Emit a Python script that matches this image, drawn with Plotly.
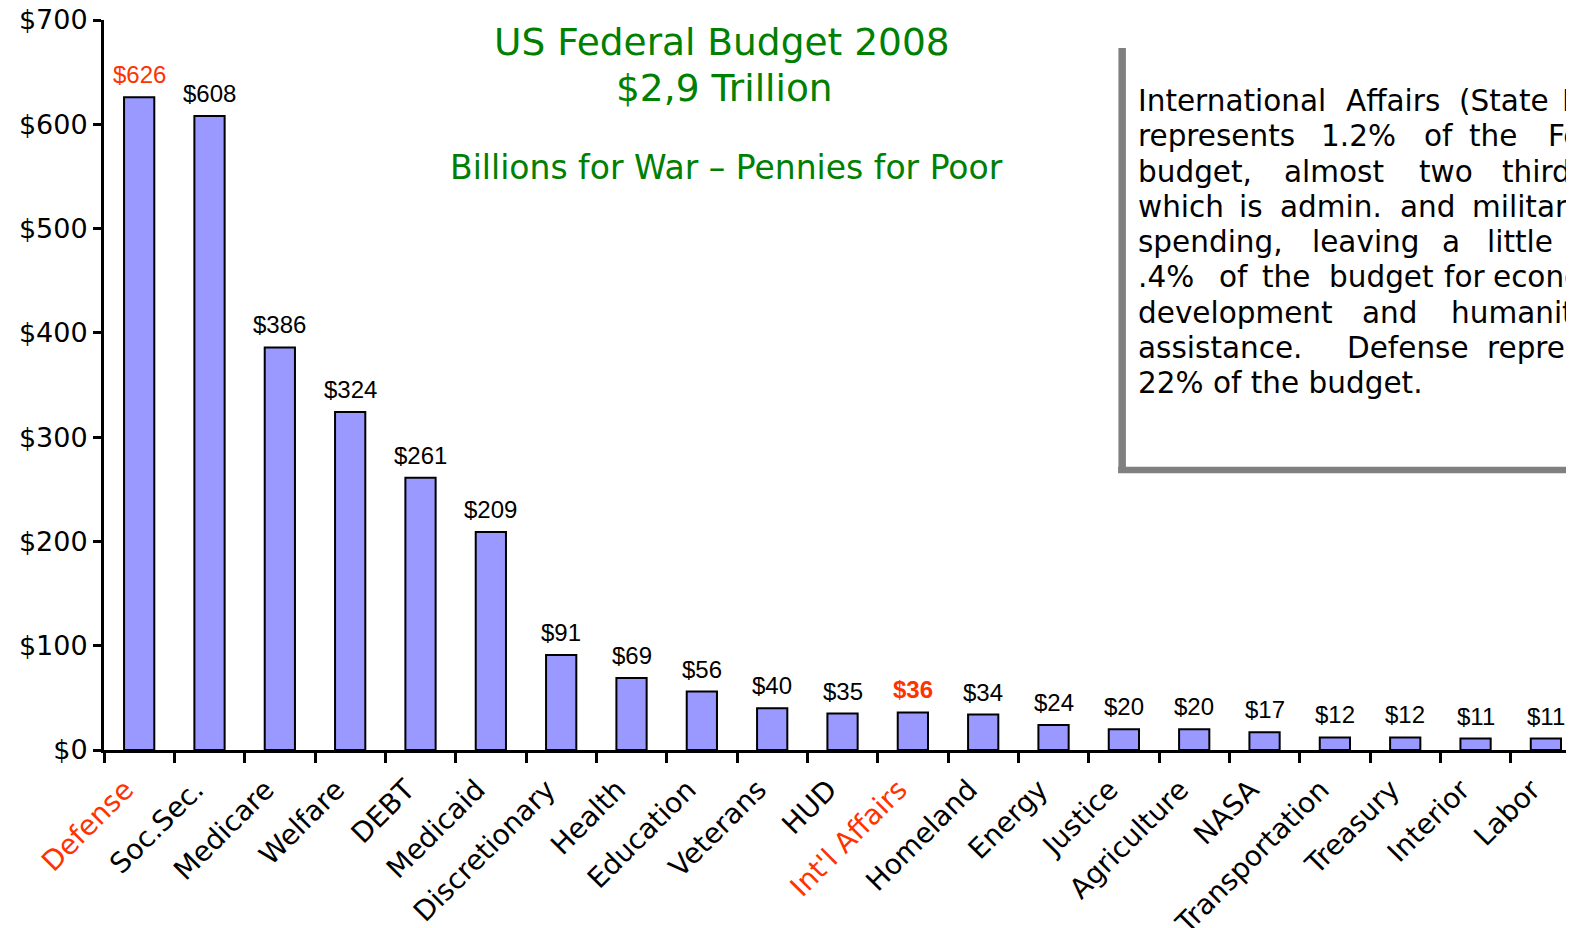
import plotly.graph_objects as go

# ---------------- data ----------------
categories = ["Defense", "Soc.Sec.", "Medicare", "Welfare", "DEBT", "Medicaid",
              "Discretionary", "Health", "Education", "Veterans", "HUD",
              "Int'l Affairs", "Homeland", "Energy", "Justice", "Agriculture",
              "NASA", "Transportation", "Treasury", "Interior", "Labor"]
values = [626, 608, 386, 324, 261, 209, 91, 69, 56, 40, 35, 36, 34, 24, 20, 20,
          17, 12, 12, 11, 11]
red_categories = ["Defense", "Int'l Affairs"]
bold_value_categories = ["Int'l Affairs"]
y_ticks = [0, 100, 200, 300, 400, 500, 600, 700]

title_lines = ["US Federal Budget 2008", "$2,9 Trillion"]
subtitle = "Billions for War \u2013 Pennies for Poor"
note_lines = [
    ["International", "Affairs", "(State", "Dept.)"],
    ["represents", "1.2%", "of", "the", "Federal"],
    ["budget,", "almost", "two", "thirds", "of"],
    ["which", "is", "admin.", "and", "military"],
    ["spending,", "leaving", "a", "little", "over"],
    [".4%", "of", "the", "budget", "for", "economic"],
    ["development", "and", "humanitarian"],
    ["assistance.", "Defense", "represents"],
    ["22% of the budget."],
]
# page-pixel start of each word of the justified note text (layout)
note_word_x = [
    [1139, 1347, 1460, 1563],
    [1139, 1322, 1425, 1470, 1549],
    [1139, 1285, 1420, 1503, 1620],
    [1139, 1240, 1281, 1401, 1473],
    [1139, 1313, 1443, 1488, 1590],
    [1139, 1220, 1263, 1330, 1445, 1494],
    [1139, 1363, 1452],
    [1139, 1348, 1488],
    [1139],
]

RED = "#FF3300"
GREEN = "#008000"
BAR = "#9999FF"

# ---------------- geometry helpers (page pixels -> paper) ----------------
OFF = 8                       # default body margin of the page
W, H = 1574 - OFF, 928 - OFF
L, R, T, B = 103.5 - OFF, 0, 20 - OFF, 178
PW, PH = W - L - R, H - T - B
CAT_W = 70.36                 # pixel width of one category slot
X_MAX = -0.5 + PW / CAT_W     # axis range end (last slot partly off-page)


def px(x):
    return (x - OFF - L) / PW


def py(y):
    return (H - B - (y - OFF)) / PH


fig = go.Figure()
fig.add_trace(go.Bar(
    x=categories, y=values, width=0.43,
    marker=dict(color=BAR, line=dict(color="black", width=2)),
    hoverinfo="x+y", showlegend=False,
))

annotations = []
# value labels above bars
for c, v in zip(categories, values):
    txt = f"${v}"
    if c in bold_value_categories:
        txt = f"<b>{txt}</b>"
    annotations.append(dict(
        x=c, y=v, xref="x", yref="y", text=txt, showarrow=False,
        yanchor="bottom", xanchor="center", yshift=7,
        font=dict(family="Liberation Sans, Arial", size=24,
                  color=RED if c in red_categories else "black"),
    ))

# titles
annotations.append(dict(x=px(722), y=py(42), xref="paper", yref="paper",
                        text=title_lines[0], showarrow=False, xanchor="center", yanchor="middle",
                        font=dict(family="DejaVu Sans", size=37.5, color=GREEN)))
annotations.append(dict(x=px(724), y=py(88), xref="paper", yref="paper",
                        text=title_lines[1], showarrow=False, xanchor="center", yanchor="middle",
                        font=dict(family="DejaVu Sans", size=37.5, color=GREEN)))
annotations.append(dict(x=px(726), y=py(167), xref="paper", yref="paper",
                        text=subtitle, showarrow=False, xanchor="center", yanchor="middle",
                        font=dict(family="DejaVu Sans", size=33, color=GREEN)))

# note box text, justified word by word
for i, (words, xs) in enumerate(zip(note_lines, note_word_x)):
    for w_, x_ in zip(words, xs):
        annotations.append(dict(x=px(x_ - 3), y=py(101 + i * 35.25), xref="paper", yref="paper",
                                text=w_, showarrow=False, xanchor="left", yanchor="middle",
                                align="left",
                                font=dict(family="DejaVu Sans", size=29.5, color="black")))

shapes = [
    dict(type="line", xref="paper", yref="paper", x0=px(1122), x1=px(1122),
         y0=py(48), y1=py(473), line=dict(color="#808080", width=7.5)),
    dict(type="line", xref="paper", yref="paper", x0=px(1118), x1=px(1600),
         y0=py(470), y1=py(470), line=dict(color="#808080", width=6.5)),
]

ticktext = [f"<span style='color:{RED}'>{c}</span>" if c in red_categories else c
            for c in categories]

fig.update_layout(
    width=W, height=H,
    margin=dict(l=L, r=R, t=T, b=B, autoexpand=False),
    paper_bgcolor="white", plot_bgcolor="white",
    annotations=annotations, shapes=shapes,
    xaxis=dict(
        type="category", range=[-0.5, X_MAX],
        tickmode="array", tickvals=categories, ticktext=ticktext,
        tickangle=-45, ticks="outside", tickson="boundaries",
        ticklen=10, tickwidth=2.5, tickcolor="black",
        ticklabelstandoff=9, ticklabelshift=-14,
        ticklabeloverflow="allow",
        showline=True, linecolor="black", linewidth=3,
        showgrid=False, zeroline=False,
        tickfont=dict(family="DejaVu Sans", size=28, color="black"),
    ),
    yaxis=dict(
        range=[0, 700], tickmode="array", tickvals=y_ticks,
        ticktext=[f"${t}" for t in y_ticks],
        ticks="outside", ticklen=8, tickwidth=2.5, tickcolor="black",
        ticklabeloverflow="allow",
        showline=True, linecolor="black", linewidth=3,
        showgrid=False, zeroline=False,
        tickfont=dict(family="DejaVu Sans", size=27, color="black"),
    ),
)

fig.write_html("out.html")
